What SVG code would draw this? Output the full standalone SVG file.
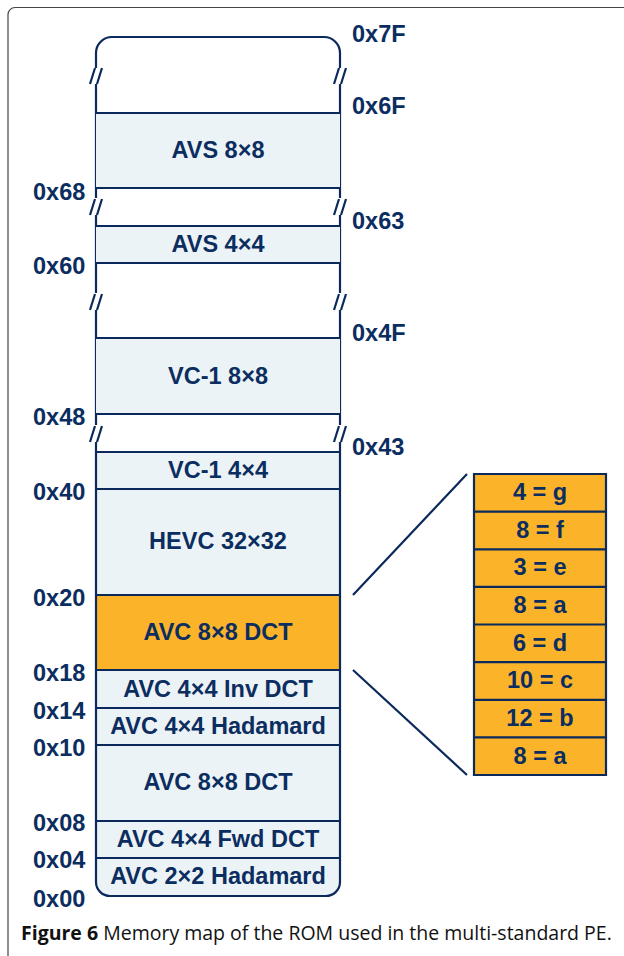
<svg xmlns="http://www.w3.org/2000/svg" width="624" height="956" viewBox="0 0 624 956">
<style>
.lbl{font-family:"Liberation Sans",Arial,sans-serif;font-weight:bold;font-size:23.5px;fill:#0b2d60}
.mid{text-anchor:middle}
.ln{stroke:#0b2a5b;stroke-width:2.2;fill:none}
.box{fill:#ecf3f6}
.org{fill:#fbb42a}
.cap{font-family:"Open Sans","Noto Sans",sans-serif;font-size:19.5px;fill:#111}
</style>
<rect x="8" y="7.5" width="700" height="1000" rx="7" fill="#fff" stroke="#444" stroke-width="1.2"/>

<g id="column">
  <path class="ln" d="M96,68 V53 A16,16 0 0 1 112,37 H324 A16,16 0 0 1 340,53 V68"/>
  <path class="ln" d="M96,84 V198 M340,84 V198 M96,215 V293 M340,215 V293 M96,310 V425 M340,310 V425"/>
  <g class="ln">
    <path d="M90,84 L95,68 M97,84 L102,68 M334,84 L339,68 M341,84 L346,68"/>
    <path d="M90,215 L95,199 M97,215 L102,199 M334,215 L339,199 M341,215 L346,199"/>
    <path d="M90,310 L95,294 M97,310 L102,294 M334,310 L339,294 M341,310 L346,294"/>
    <path d="M90,442 L95,426 M97,442 L102,426 M334,442 L339,426 M341,442 L346,426"/>
  </g>
</g>

<g id="avs8x8"><rect class="box" x="96" y="113" width="244" height="75"/><path class="ln" d="M96,113 H340 M96,188 H340"/><text class="lbl mid" x="218" y="158">AVS 8×8</text></g>
<g id="avs4x4"><rect class="box" x="96" y="226" width="244" height="37"/><path class="ln" d="M96,226 H340 M96,263 H340"/><text class="lbl mid" x="218" y="252">AVS 4×4</text></g>
<g id="vc1-8x8"><rect class="box" x="96" y="338" width="244" height="76"/><path class="ln" d="M96,338 H340 M96,414 H340"/><text class="lbl mid" x="218" y="384">VC-1 8×8</text></g>
<g id="vc1-4x4"><rect class="box" x="96" y="452" width="244" height="37"/><path class="ln" d="M96,452 H340"/><text class="lbl mid" x="218" y="478">VC-1 4×4</text></g>
<g id="hevc"><rect class="box" x="96" y="489" width="244" height="106"/><path class="ln" d="M96,489 H340"/><text class="lbl mid" x="218" y="549">HEVC 32×32</text></g>
<g id="avc8x8-inv"><rect class="org" x="96" y="595" width="244" height="75"/><path class="ln" d="M96,595 H340"/><text class="lbl mid" x="218" y="640">AVC 8×8 DCT</text></g>
<g id="avc4x4-inv"><rect class="box" x="96" y="670" width="244" height="38"/><path class="ln" d="M96,670 H340"/><text class="lbl mid" x="218" y="697">AVC 4×4 Inv DCT</text></g>
<g id="avc4x4-had"><rect class="box" x="96" y="708" width="244" height="37"/><path class="ln" d="M96,708 H340"/><text class="lbl mid" x="218" y="734">AVC 4×4 Hadamard</text></g>
<g id="avc8x8-fwd"><rect class="box" x="96" y="745" width="244" height="76"/><path class="ln" d="M96,745 H340"/><text class="lbl mid" x="218" y="790">AVC 8×8 DCT</text></g>
<g id="avc4x4-fwd"><rect class="box" x="96" y="821" width="244" height="37"/><path class="ln" d="M96,821 H340"/><text class="lbl mid" x="218" y="847">AVC 4×4 Fwd DCT</text></g>
<g id="avc2x2-had"><path class="box" d="M96,858 H340 V882 A14,14 0 0 1 326,896 H110 A14,14 0 0 1 96,882 Z"/><path class="ln" d="M96,858 H340"/><text class="lbl mid" x="218" y="884">AVC 2×2 Hadamard</text></g>

<path class="ln" d="M96,442 V882 A14,14 0 0 0 110,896 H326 A14,14 0 0 0 340,882 V442"/>

<g id="addr-left" class="lbl">
  <text x="33" y="200">0x68</text>
  <text x="33" y="274">0x60</text>
  <text x="33" y="425">0x48</text>
  <text x="33" y="500">0x40</text>
  <text x="33" y="606">0x20</text>
  <text x="33" y="681">0x18</text>
  <text x="33" y="719">0x14</text>
  <text x="33" y="756">0x10</text>
  <text x="33" y="831">0x08</text>
  <text x="33" y="868">0x04</text>
  <text x="33" y="907">0x00</text>
</g>
<g id="addr-right" class="lbl">
  <text x="352" y="42">0x7F</text>
  <text x="352" y="114">0x6F</text>
  <text x="352" y="229">0x63</text>
  <text x="352" y="341">0x4F</text>
  <text x="352" y="455">0x43</text>
</g>

<g id="connectors">
  <path class="ln" d="M353,595 L467,474 M353,670 L467,775"/>
</g>

<g id="detail-table">
  <rect class="org" x="474" y="474" width="132" height="301"/>
  <path class="ln" d="M474,474 H606 V775 H474 Z M474,511.6 H606 M474,549.3 H606 M474,586.9 H606 M474,624.5 H606 M474,662.1 H606 M474,699.8 H606 M474,737.4 H606"/>
  <g class="lbl mid">
    <text x="540" y="500">4 = g</text>
    <text x="540" y="537.5">8 = f</text>
    <text x="540" y="575">3 = e</text>
    <text x="540" y="613">8 = a</text>
    <text x="540" y="650.5">6 = d</text>
    <text x="540" y="688">10 = c</text>
    <text x="540" y="726">12 = b</text>
    <text x="540" y="763.5">8 = a</text>
  </g>
</g>

<text class="cap" x="21" y="940"><tspan font-weight="bold">Figure 6</tspan> Memory map of the ROM used in the multi-standard PE.</text>
</svg>
